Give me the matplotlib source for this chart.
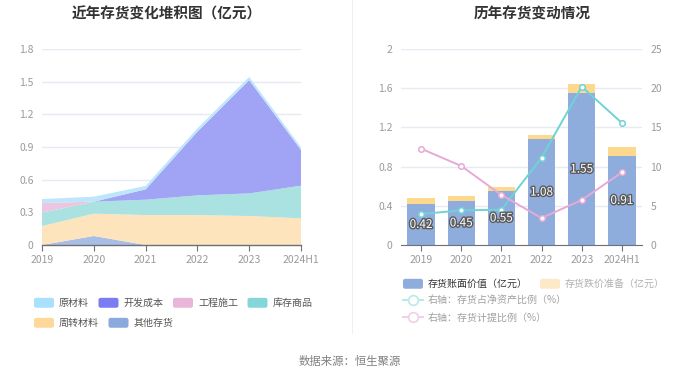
import matplotlib
matplotlib.use("Agg")
import matplotlib.pyplot as plt
import numpy as np
from matplotlib.patches import Patch, FancyBboxPatch
from matplotlib.lines import Line2D
from matplotlib.legend_handler import HandlerPatch
import matplotlib.patheffects as pe

plt.rcParams["font.family"] = ["Noto Sans CJK SC", "DejaVu Sans"]

# ---- Data ----
years = ["2019", "2020", "2021", "2022", "2023", "2024H1"]

# left: stacked inventory components (亿元), bottom -> top
other_inv = [0.0, 0.083, 0.0, 0.0, 0.0, 0.0]          # 其他存货
turnover = [0.174, 0.205, 0.275, 0.275, 0.266, 0.245]  # 周转材料
goods = [0.123, 0.110, 0.141, 0.181, 0.208, 0.300]     # 库存商品
construction = [0.089, 0.0, 0.0, 0.0, 0.0, 0.0]        # 工程施工
dev_cost = [0.0, 0.0, 0.095, 0.585, 1.040, 0.327]      # 开发成本
raw_mat = [0.036, 0.046, 0.031, 0.030, 0.030, 0.025]   # 原材料

# right: book value / provision (亿元), ratios (%)
book_value = [0.42, 0.45, 0.55, 1.08, 1.55, 0.91]
provision = [0.059, 0.050, 0.037, 0.038, 0.094, 0.093]
ratio_net_assets = [3.95, 4.42, 4.50, 11.14, 20.20, 15.56]
ratio_provision = [12.29, 10.08, 6.38, 3.44, 5.74, 9.27]

# ---- Style ----
AXIS_C = "#6e7079"
TICK_C = "#9a9a9a"
GRID_C = "#e6eaf3"


class RoundPatchHandler(HandlerPatch):
    def create_artists(self, legend, orig_handle, xdescent, ydescent,
                       width, height, fontsize, trans):
        r = 0.22 * height
        p = FancyBboxPatch((-xdescent + r, -ydescent + r), width - 2 * r, height - 2 * r,
                           boxstyle=f"round,pad={r}",
                           facecolor=orig_handle.get_facecolor(),
                           edgecolor="none", transform=trans)
        return [p]


fig = plt.figure(figsize=(7.0, 3.78), dpi=100)

# ---- Left: stacked area ----
ax = fig.add_axes([42 / 700, 1 - 245 / 378, 259 / 700, 196 / 378])
x = np.arange(len(years))
area_colors = ["#a9bee4", "#fde4bd", "#a9e2e1", "#ecc6e0", "#a1a3f5", "#bde6fb"]
ax.stackplot(x, other_inv, turnover, goods, construction, dev_cost, raw_mat,
             colors=area_colors, linewidth=0, zorder=2)
ax.set_xlim(0, 5)
ax.set_ylim(0, 1.8)
yt = [0, 0.3, 0.6, 0.9, 1.2, 1.5, 1.8]
ax.set_yticks(yt)
ax.set_yticklabels(["0"] + [f"{v:.1f}" for v in yt[1:]])
ax.set_xticks(x)
ax.set_xticklabels(years)
ax.yaxis.grid(True, color=GRID_C, linewidth=1.0, zorder=0)
ax.set_axisbelow(True)
for s in ["top", "right", "left"]:
    ax.spines[s].set_visible(False)
ax.spines["bottom"].set_color(AXIS_C)
ax.spines["bottom"].set_linewidth(1.0)
ax.spines["bottom"].set_zorder(5)
ax.tick_params(axis="y", length=0, pad=6, labelsize=7.5, labelcolor=TICK_C)
ax.tick_params(axis="x", length=4, color=AXIS_C, pad=3, labelsize=7.5, labelcolor=TICK_C)
fig.text(167 / 700, 1 - 14 / 378, "近年存货变化堆积图（亿元）", ha="center", va="center",
         fontsize=10.5, fontweight="bold", color="#333333")

# left legends
leg_names_1 = ["原材料", "开发成本", "工程施工", "库存商品"]
leg_cols_1 = ["#a9e0fb", "#7b7cf2", "#e8b6d8", "#84d6d8"]
leg_names_2 = ["周转材料", "其他存货"]
leg_cols_2 = ["#fed89a", "#8ba9dc"]
common = dict(frameon=False, fontsize=7.2, handlelength=2.0, handleheight=1.15,
              handletextpad=0.5, columnspacing=0.95, borderpad=0, borderaxespad=0,
              labelcolor="#555555", handler_map={Patch: RoundPatchHandler()})
l1 = fig.legend([Patch(facecolor=c) for c in leg_cols_1], leg_names_1, ncol=4,
                loc="center left", bbox_to_anchor=(34 / 700, 1 - 303 / 378), **common)
l2 = fig.legend([Patch(facecolor=c) for c in leg_cols_2], leg_names_2, ncol=2,
                loc="center left", bbox_to_anchor=(34 / 700, 1 - 323 / 378), **common)

# ---- Right: bars + ratio lines ----
axb = fig.add_axes([401 / 700, 1 - 245 / 378, 241 / 700, 196 / 378])
bar_blue = "#8eaddc"
bar_yel = "#fdd98e"
axb.bar(x, book_value, width=0.68, color=bar_blue, zorder=2)
axb.bar(x, provision, width=0.68, bottom=book_value, color=bar_yel, zorder=2)
axb.set_xlim(-0.5, 5.5)
axb.set_ylim(0, 2)
axb.set_yticks([0, 0.4, 0.8, 1.2, 1.6, 2])
axb.set_yticklabels(["0", "0.4", "0.8", "1.2", "1.6", "2"])
axb.set_xticks(x)
axb.set_xticklabels(years)
axb.yaxis.grid(True, color=GRID_C, linewidth=1.0, zorder=0)
axb.set_axisbelow(True)
for s in ["top", "right", "left"]:
    axb.spines[s].set_visible(False)
axb.spines["bottom"].set_color(AXIS_C)
axb.spines["bottom"].set_zorder(5)
axb.tick_params(axis="y", length=0, pad=6, labelsize=7.5, labelcolor=TICK_C)
axb.tick_params(axis="x", length=4, color=AXIS_C, pad=3, labelsize=7.5, labelcolor=TICK_C)

ax2 = axb.twinx()
ax2.set_ylim(0, 25)
ax2.set_yticks([0, 5, 10, 15, 20, 25])
for s in ["top", "right", "left", "bottom"]:
    ax2.spines[s].set_visible(False)
ax2.tick_params(axis="y", length=0, pad=6, labelsize=7.5, labelcolor=TICK_C)
cyan = "#6fd3d6"
pink = "#e8a9d6"
ax2.plot(x, ratio_net_assets, color=cyan, linewidth=1.4, marker="o", markersize=4,
         markerfacecolor="white", markeredgewidth=1.1, zorder=3)
ax2.plot(x, ratio_provision, color=pink, linewidth=1.4, marker="o", markersize=4,
         markerfacecolor="white", markeredgewidth=1.1, zorder=3)

for xi, v in zip(x, book_value):
    ax2.text(xi, v / 2, f"{v:.2f}", transform=axb.transData, ha="center", va="center",
             fontsize=8.5, color="white", zorder=6,
             path_effects=[pe.withStroke(linewidth=2.0, foreground="#5a5a5a")])

fig.text(532 / 700, 1 - 14 / 378, "历年存货变动情况", ha="center", va="center",
         fontsize=10.5, fontweight="bold", color="#333333")

# right legends
r1 = fig.legend([Patch(facecolor=bar_blue), Patch(facecolor="#fde9c8")],
                ["存货账面价值（亿元）", "存货跌价准备（亿元）"], ncol=2,
                loc="center left", bbox_to_anchor=(403 / 700, 1 - 284 / 378),
                frameon=False, fontsize=7.2, handlelength=2.0, handleheight=1.15,
                handletextpad=0.5, columnspacing=1.2, borderpad=0, borderaxespad=0,
                handler_map={Patch: RoundPatchHandler()})
for t, c in zip(r1.get_texts(), ["#333333", "#b0b0b0"]):
    t.set_color(c)
line_handles = [
    Line2D([], [], color="#b9e9ea", linewidth=1.4, marker="o", markersize=7,
           markerfacecolor="white", markeredgecolor="#b9e9ea", markeredgewidth=1.2),
    Line2D([], [], color="#f2cfe8", linewidth=1.4, marker="o", markersize=7,
           markerfacecolor="white", markeredgecolor="#f2cfe8", markeredgewidth=1.2),
]
r2 = fig.legend(line_handles, ["右轴：存货占净资产比例（%）", "右轴：存货计提比例（%）"],
                ncol=1, loc="upper left", bbox_to_anchor=(403 / 700, 1 - 295 / 378),
                frameon=False, fontsize=7.2, handlelength=2.0, handletextpad=0.5,
                labelspacing=0.75, borderpad=0, borderaxespad=0, labelcolor="#a0a0a0")

# separator and source
fig.add_artist(Line2D([352 / 700, 352 / 700], [1 - 333 / 378, 1.0],
                      transform=fig.transFigure, color="#efefef", linewidth=0.8))
fig.text(350 / 700, 1 - 362 / 378, "数据来源：恒生聚源", ha="center", va="center",
         fontsize=8.2, color="#808080")

fig.savefig("out.png", dpi=100, facecolor="white")
